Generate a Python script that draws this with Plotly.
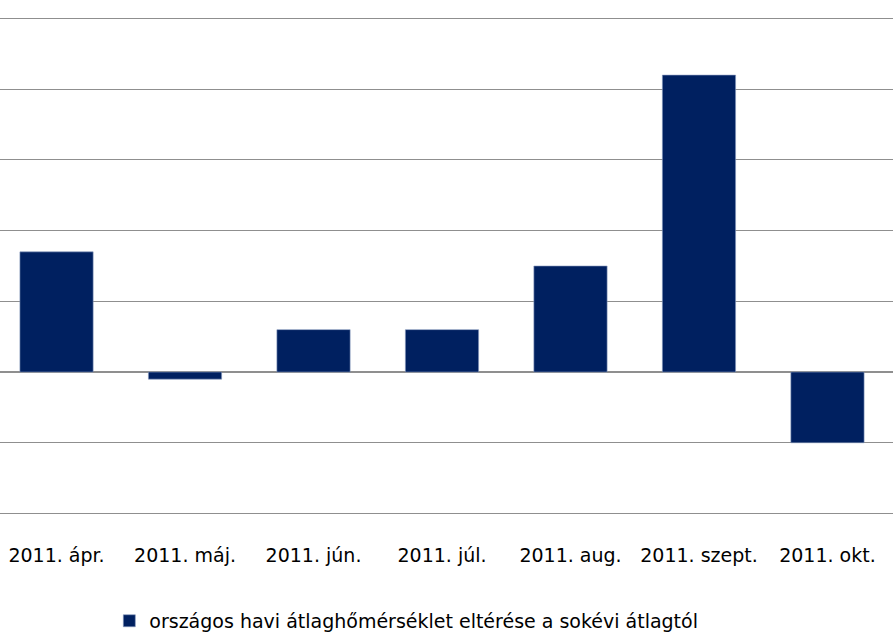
import plotly.graph_objects as go

categories = ["2011. ápr.", "2011. máj.", "2011. jún.", "2011. júl.", "2011. aug.", "2011. szept.", "2011. okt."]
values = [1.7, -0.1, 0.6, 0.6, 1.5, 4.2, -1.0]
series_name = "országos havi átlaghőmérséklet eltérése a sokévi átlagtól"

fig = go.Figure()
fig.add_trace(go.Bar(
    x=categories, y=values, name=series_name,
    marker=dict(color="#002060", line=dict(color="#8a9cc0", width=0.6)),
    width=0.57,
))

fig.update_layout(
    width=895, height=634,
    margin=dict(l=0, r=2, t=15, b=117, autoexpand=False),
    paper_bgcolor="white", plot_bgcolor="white",
    font=dict(family="DejaVu Sans, Liberation Sans, sans-serif", size=19, color="#000000"),
    showlegend=True,
    legend=dict(orientation="h", x=0.455, xanchor="center", y=-0.207, yanchor="middle",
                font=dict(size=19), itemwidth=30),
    bargap=0.43,
)
fig.update_xaxes(
    type="category", range=[-0.44, 6.51], showgrid=False, showline=False,
    ticks="outside", ticklen=21, tickcolor="rgba(0,0,0,0)", zeroline=False,
    automargin=False,
)
fig.update_yaxes(
    range=[-2.05, 5.05], dtick=1, tick0=0, showticklabels=False,
    showgrid=True, gridcolor="#8f8f8f", gridwidth=1.2,
    zeroline=True, zerolinecolor="#8f8f8f", zerolinewidth=1.5, showline=False,
    automargin=False,
)

fig.write_html(
    "out.html",
    config={"displayModeBar": False},
    post_script="document.body.style.margin='0';document.body.style.overflow='hidden';",
)
